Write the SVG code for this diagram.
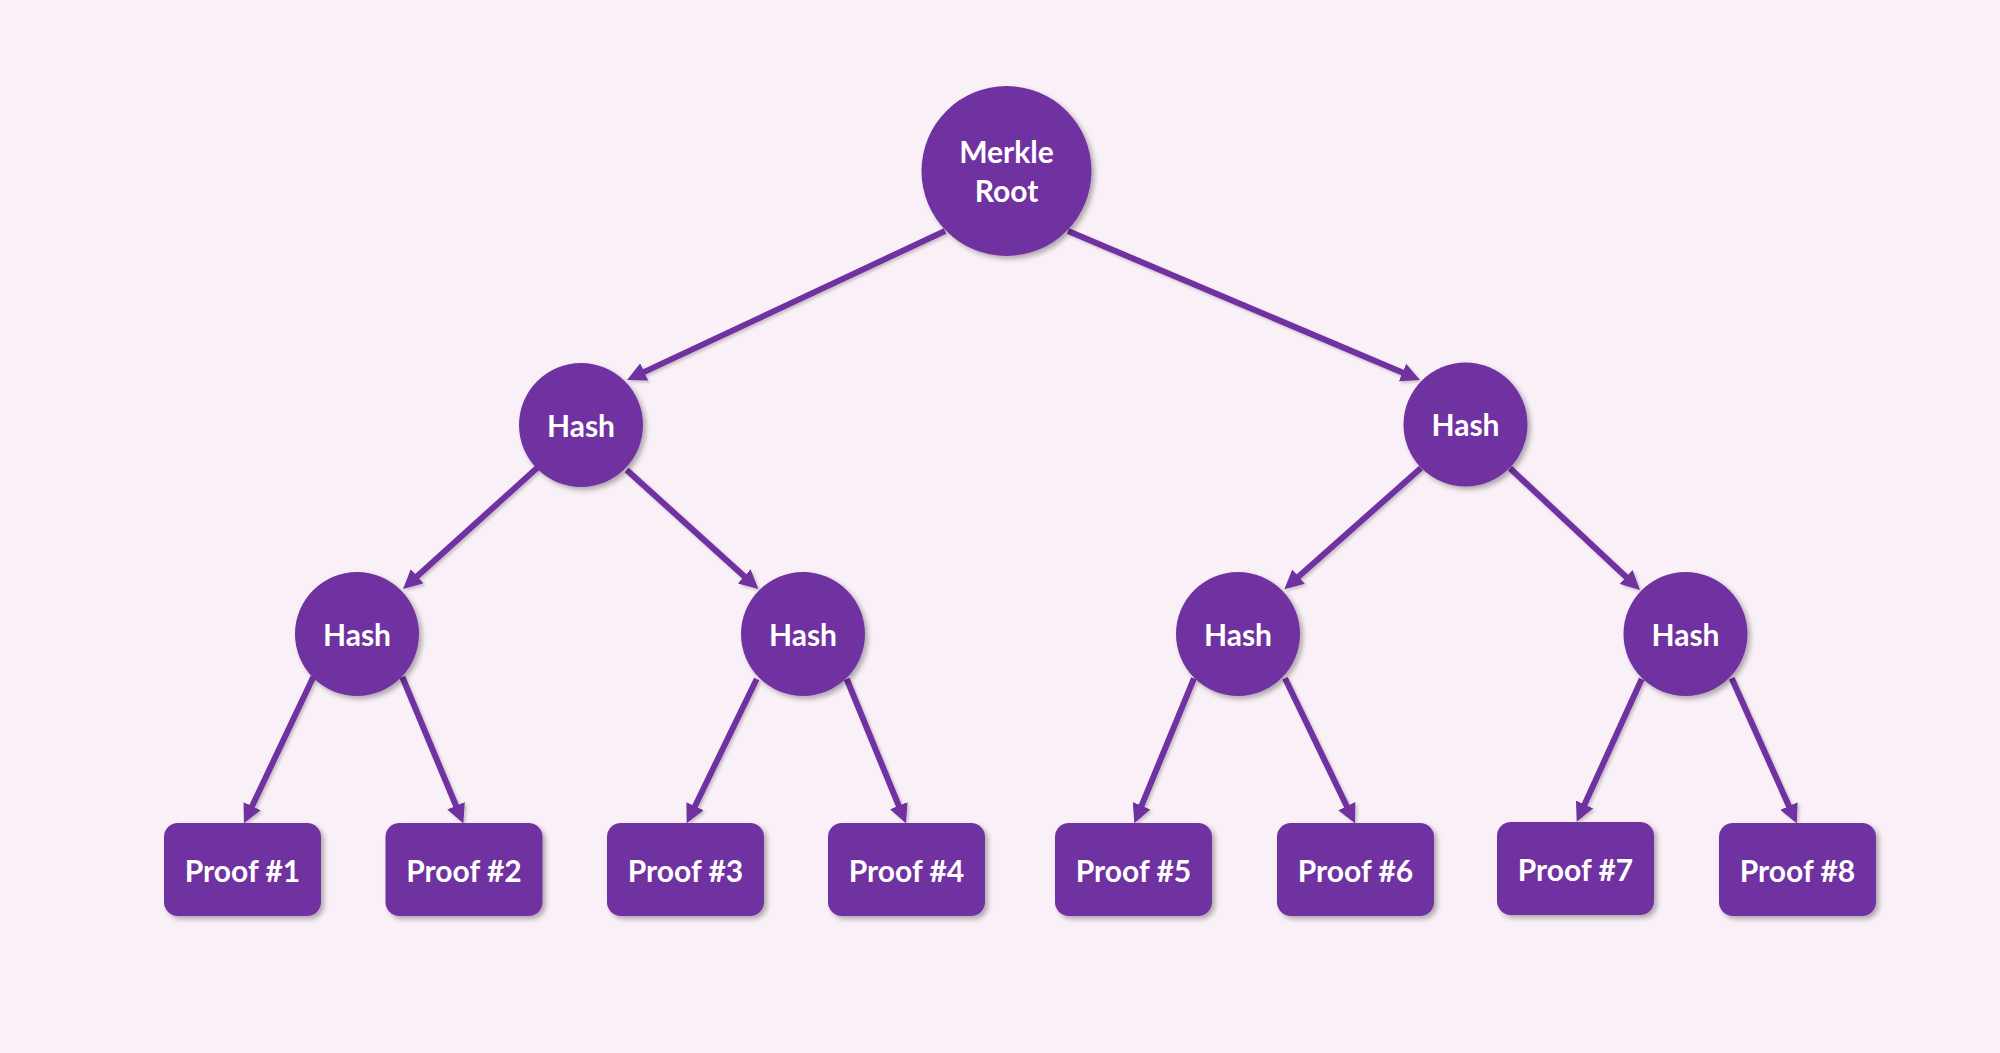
<svg xmlns="http://www.w3.org/2000/svg" width="2000" height="1053" viewBox="0 0 2000 1053">
<defs>
<style>
.node{fill:#7030A0;filter:url(#shadow);}
.lbl{fill:#FFFFFF;font-family:Lato,"Liberation Sans",sans-serif;font-weight:700;font-size:30px;text-anchor:middle;}
.edge{stroke:#7030A0;stroke-width:6;fill:none;marker-end:url(#arrow);}
</style>
<filter id="shadow" x="-20%" y="-20%" width="140%" height="140%">
<feDropShadow dx="3" dy="3" stdDeviation="2.5" flood-color="#000000" flood-opacity="0.3"/>
</filter>
<filter id="lshadow" x="-10%" y="-10%" width="120%" height="120%">
<feDropShadow dx="2" dy="2" stdDeviation="1.5" flood-color="#000000" flood-opacity="0.2"/>
</filter>
<marker id="arrow" markerUnits="userSpaceOnUse" markerWidth="19" markerHeight="19" refX="7" refY="9.5" orient="auto">
<path d="M0,0 L19,9.5 L0,19 Z" fill="#7030A0"/>
</marker>
</defs>
<rect x="0" y="0" width="2000" height="1053" fill="#FAF0F7"/>
<g id="connectors" filter="url(#lshadow)">
<line class="edge" x1="945" y1="231" x2="637.9" y2="374.9"/>
<line class="edge" x1="1068" y1="231" x2="1408.9" y2="375.3"/>
<line class="edge" x1="537" y1="468" x2="411.9" y2="581"/>
<line class="edge" x1="626.7" y1="470" x2="749.4" y2="581"/>
<line class="edge" x1="1421" y1="468" x2="1293.3" y2="581.3"/>
<line class="edge" x1="1510" y1="468.3" x2="1631.2" y2="581.8"/>
<line class="edge" x1="313.3" y1="677" x2="249.1" y2="812.5"/>
<line class="edge" x1="402.3" y1="677" x2="458.7" y2="812.2"/>
<line class="edge" x1="756.7" y1="679" x2="691.9" y2="812.5"/>
<line class="edge" x1="846.7" y1="679" x2="901.4" y2="812.2"/>
<line class="edge" x1="1194" y1="678.3" x2="1138.9" y2="812.2"/>
<line class="edge" x1="1285" y1="678.3" x2="1349.8" y2="812.5"/>
<line class="edge" x1="1641.7" y1="679" x2="1581.7" y2="810.8"/>
<line class="edge" x1="1731.7" y1="678.3" x2="1791.8" y2="812.4"/>
</g>
<g id="root">
<circle class="node" cx="1006.5" cy="171" r="85"/>
<text class="lbl" x="1006.5" y="163">Merkle</text>
<text class="lbl" x="1006.5" y="201.5">Root</text>
</g>
<g id="hash-l">
<circle class="node" cx="581" cy="425" r="62"/>
<text class="lbl" x="581" y="436.5">Hash</text>
</g>
<g id="hash-r">
<circle class="node" cx="1465.5" cy="424.5" r="62"/>
<text class="lbl" x="1465.5" y="436">Hash</text>
</g>
<g id="hash-ll">
<circle class="node" cx="357" cy="634" r="62"/>
<text class="lbl" x="357" y="645.5">Hash</text>
</g>
<g id="hash-lr">
<circle class="node" cx="803" cy="634" r="62"/>
<text class="lbl" x="803" y="645.5">Hash</text>
</g>
<g id="hash-rl">
<circle class="node" cx="1238" cy="634" r="62"/>
<text class="lbl" x="1238" y="645.5">Hash</text>
</g>
<g id="hash-rr">
<circle class="node" cx="1685.5" cy="634" r="62"/>
<text class="lbl" x="1685.5" y="645.5">Hash</text>
</g>
<g id="proof1">
<rect class="node" x="164" y="823" width="157" height="93" rx="14"/>
<text class="lbl" x="242.5" y="881.5">Proof #1</text>
</g>
<g id="proof2">
<rect class="node" x="385.5" y="823" width="157" height="93" rx="14"/>
<text class="lbl" x="464" y="881.5">Proof #2</text>
</g>
<g id="proof3">
<rect class="node" x="607" y="823" width="157" height="93" rx="14"/>
<text class="lbl" x="685.5" y="881.5">Proof #3</text>
</g>
<g id="proof4">
<rect class="node" x="828" y="823" width="157" height="93" rx="14"/>
<text class="lbl" x="906.5" y="881.5">Proof #4</text>
</g>
<g id="proof5">
<rect class="node" x="1055" y="823" width="157" height="93" rx="14"/>
<text class="lbl" x="1133.5" y="881.5">Proof #5</text>
</g>
<g id="proof6">
<rect class="node" x="1277" y="823" width="157" height="93" rx="14"/>
<text class="lbl" x="1355.5" y="881.5">Proof #6</text>
</g>
<g id="proof7">
<rect class="node" x="1497" y="822" width="157" height="93" rx="14"/>
<text class="lbl" x="1575.5" y="880.5">Proof #7</text>
</g>
<g id="proof8">
<rect class="node" x="1719" y="823" width="157" height="93" rx="14"/>
<text class="lbl" x="1797.5" y="881.5">Proof #8</text>
</g>
</svg>
